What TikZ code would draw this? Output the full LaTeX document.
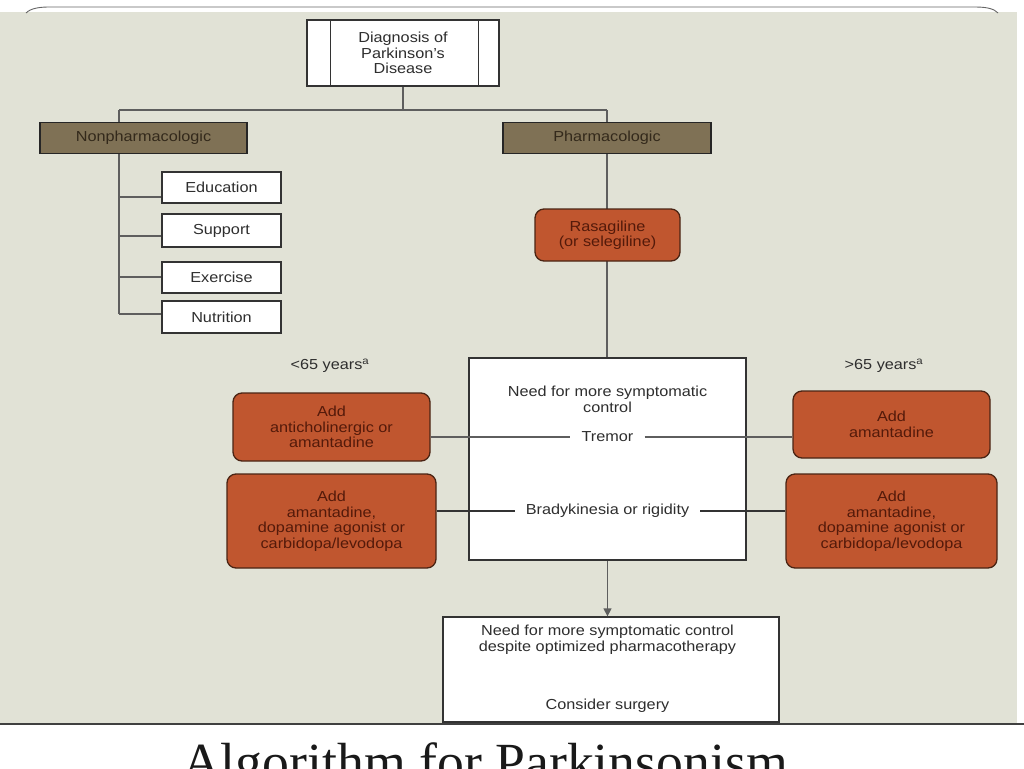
\documentclass[tikz,border=0pt]{standalone}
\usepackage{fontspec}
\setmainfont{Liberation Sans}[FakeStretch=1.12]
\newfontfamily\titlefont{Liberation Serif}
\usetikzlibrary{arrows.meta}
\definecolor{panel}{HTML}{E1E2D6}
\definecolor{hdr}{HTML}{7F7155}
\definecolor{hdrtxt}{HTML}{33291B}
\definecolor{org}{HTML}{C0562F}
\definecolor{orgline}{HTML}{4A2414}
\definecolor{orgtxt}{HTML}{541A0A}
\definecolor{txt}{HTML}{2E2E2E}
\definecolor{ln}{HTML}{5E5E5E}
\definecolor{frame}{HTML}{666666}
\pgfdeclarelayer{bg}
\pgfdeclarelayer{edges}
\pgfsetlayers{bg,edges,main}
\begin{document}
\begin{tikzpicture}[x=1pt,y=-1pt,
  base/.style={font=\fontsize{14.5}{15.5}\selectfont, align=center, inner sep=0pt},
  whitebox/.style={base, draw=black!80, fill=white, line width=1.3pt, text=txt},
  hdrbox/.style={base, draw=black!85, fill=hdr, line width=1.3pt, text=hdrtxt},
  orgbox/.style={base, draw=orgline, fill=org, line width=1.3pt, rounded corners=9pt, text=orgtxt},
  conn/.style={draw=ln, line width=1.3pt},
  lbl/.style={base, text=txt}]
\clip (0,0) rectangle (1024,768);

% ---- panel ----
\begin{pgfonlayer}{bg}
  \fill[white] (0,0) rectangle (1024,768);
  \fill[panel] (0,12) rectangle (1017,723);
  \draw[frame, line width=0.9pt] (26,13) .. controls (31,8) and (40,7) .. (50,7) -- (975,7) .. controls (988,7) and (994,9) .. (998,13);
  \draw[black!75, line width=1.5pt] (0,724) -- (1024,724);
\end{pgfonlayer}

% ---- nodes ----
\node[whitebox, minimum width=192, minimum height=66] (diag) at (403,53) {Diagnosis of\\Parkinson's\\Disease};
\draw[black!80, line width=1.3pt] ([xshift=24pt]diag.north west) -- ([xshift=24pt]diag.south west);
\draw[black!80, line width=1.3pt] ([xshift=-21pt]diag.north east) -- ([xshift=-21pt]diag.south east);

\node[hdrbox, minimum width=207, minimum height=31] (nonph) at (143.5,138) {Nonpharmacologic};
\node[hdrbox, minimum width=208, minimum height=31] (pharm) at (607,138) {Pharmacologic};

\node[whitebox, minimum width=119, minimum height=31] (edu) at (221.5,187.5) {Education};
\node[whitebox, minimum width=119, minimum height=33] (sup) at (221.5,230.5) {Support};
\node[whitebox, minimum width=119, minimum height=31] (exe) at (221.5,277.5) {Exercise};
\node[whitebox, minimum width=119, minimum height=32] (nut) at (221.5,317) {Nutrition};

\node[orgbox, minimum width=145, minimum height=52] (rasa) at (607.5,235) {Rasagiline\\(or selegiline)};

\node[lbl] (young) at (330,366) {<65 years\textsuperscript{a}};
\node[lbl] (old) at (884,366) {>65 years\textsuperscript{a}};

\node[whitebox, minimum width=277, minimum height=202] (central) at (607.5,459) {};
\node[lbl] (need) at (607.5,399.5) {Need for more symptomatic\\control};
\node[lbl, inner xsep=11pt] (tremor) at (607.5,437) {Tremor};
\node[lbl, inner xsep=11pt] (brady) at (607.5,511) {Bradykinesia or rigidity};

\node[orgbox, minimum width=197, minimum height=68] (lt) at (331.5,427) {Add\\anticholinergic or\\amantadine};
\node[orgbox, minimum width=209, minimum height=94] (lb) at (331.5,521) {Add\\amantadine,\\dopamine agonist or\\carbidopa/levodopa};
\node[orgbox, minimum width=197, minimum height=67] (rt) at (891.5,424.5) {Add\\amantadine};
\node[orgbox, minimum width=211, minimum height=94] (rb) at (891.5,521) {Add\\amantadine,\\dopamine agonist or\\carbidopa/levodopa};

\node[whitebox, minimum width=336, minimum height=105] (bottom) at (611,669.5) {};
\node[lbl] (need2) at (607.5,639.5) {Need for more symptomatic control\\despite optimized pharmacotherapy};
\node[lbl] (surg) at (607.5,706) {Consider surgery};

\node[anchor=base west, inner sep=0pt, font=\titlefont\fontsize{53.7}{60}\selectfont, text=black!90] (title) at (182,780) {Algorithm for Parkinsonism};

% ---- connectors ----
\coordinate (ntop) at (119,110);
\coordinate (b1) at (119,197);
\coordinate (b2) at (119,236);
\coordinate (b3) at (119,277);
\coordinate (b4) at (119,314);
\begin{pgfonlayer}{edges}
  \draw[conn] (diag.south) -- (diag.south |- ntop);
  \draw[conn] (ntop) -- (pharm.north |- ntop);
  \draw[conn] (ntop) -- (ntop |- nonph.north);
  \draw[conn] (pharm.north |- ntop) -- (pharm.north);
  \draw[conn] (ntop |- nonph.south) -- (b4);
  \draw[conn] (b1) -- (b1 -| edu.west);
  \draw[conn] (b2) -- (b2 -| sup.west);
  \draw[conn] (b3) -- (b3 -| exe.west);
  \draw[conn] (b4) -- (b4 -| nut.west);
  \draw[conn] (pharm.south) -- (pharm.south |- central.north);
\end{pgfonlayer}
\draw[conn] (tremor.west -| lt.east) -- (tremor.west);
\draw[conn] (tremor.east) -- (tremor.east -| rt.west);
\draw[conn, draw=black!80] (brady.west -| lb.east) -- (brady.west);
\draw[conn, draw=black!80] (brady.east) -- (brady.east -| rb.west);
\draw[conn, -{Triangle[length=8pt,width=8pt]}] (central.south) -- (central.south |- bottom.north);
\end{tikzpicture}
\end{document}
